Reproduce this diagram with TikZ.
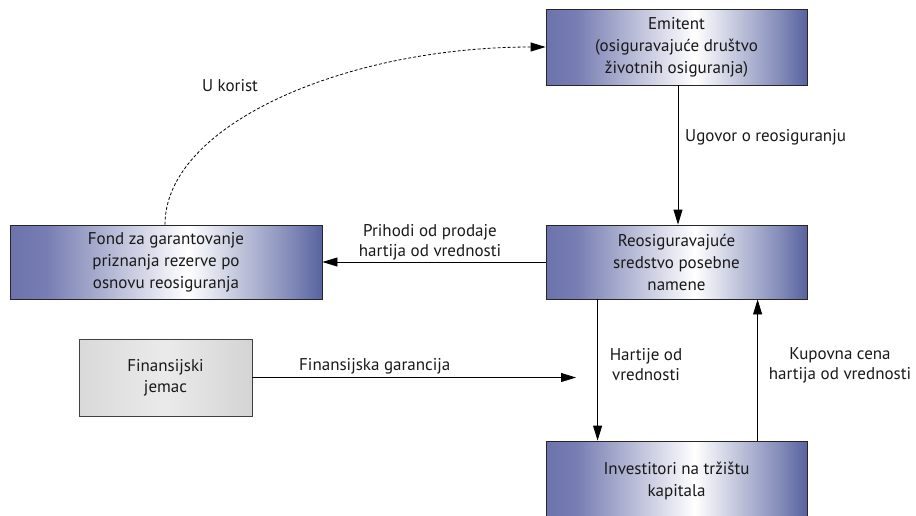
\documentclass[tikz,border=0pt]{standalone}
\usepackage{fontspec}
\setmainfont{PT Sans}
\usetikzlibrary{arrows.meta}
\definecolor{boxL}{RGB}{108,115,172}
\definecolor{boxR}{RGB}{88,99,160}
\definecolor{txt}{RGB}{25,25,25}
\pgfdeclarehorizontalshading{boxshade}{100bp}{color(0bp)=(boxL); color(25bp)=(boxL); color(31bp)=(boxL!92!white); color(53.5bp)=(white); color(70bp)=(boxR!75!white); color(75bp)=(boxR); color(100bp)=(boxR)}
\pgfdeclarehorizontalshading{grayshade}{100bp}{color(0bp)=(black!15); color(25bp)=(black!15); color(50bp)=(black!8); color(75bp)=(black!17); color(100bp)=(black!17)}
\tikzset{
  bluebox/.style={draw=black!85, line width=0.8pt, shading=boxshade, rectangle, align=center, inner sep=0pt, text=txt, font=\fontsize{17}{22}\selectfont},
  graybox/.style={draw=black!75, line width=0.8pt, shading=grayshade, rectangle, align=center, inner sep=0pt, text=txt, font=\fontsize{17}{21}\selectfont},
  lbl/.style={align=center, inner sep=0pt, text=txt, font=\fontsize{17}{20}\selectfont},
  conn/.style={line width=0.8pt, -{Triangle[length=15pt,width=9pt]}},
}
\begin{document}
\begin{tikzpicture}[x=1pt,y=-1pt]
\useasboundingbox (0,0) rectangle (916,515);
\node[bluebox, minimum width=261pt, minimum height=76pt] (emitent) at (676.5,47) {Emitent\\(osiguravajuće društvo\\životnih osiguranja)};
\node[bluebox, minimum width=261pt, minimum height=74pt] (reosig) at (676.5,262) {Reosiguravajuće\\sredstvo posebne\\namene};
\node[bluebox, minimum width=312pt, minimum height=74pt] (fond) at (166,262) {Fond za garantovanje\\priznanja rezerve po\\osnovu reosiguranja};
\node[graybox, minimum width=173pt, minimum height=77pt] (jemac) at (165.5,377.5) {Finansijski\\jemac};
\node[bluebox, minimum width=261pt, minimum height=80pt] (invest) at (676.5,481) {Investitori na tržištu\\kapitala};
\coordinate (gtip) at (576,377.5);

\draw[conn] ([xshift=1.5pt]emitent.south) -- ([xshift=1.5pt]reosig.north);
\draw[conn] (reosig.west) -- (fond.east);
\draw[conn] ([xshift=52pt]reosig.south west) -- ([xshift=52pt]invest.north west);
\draw[conn] ([xshift=212pt]invest.north west) -- ([xshift=212pt]reosig.south west);
\draw[conn] (jemac.east) -- (gtip);
\draw[conn, dash pattern=on 3pt off 2pt] ([xshift=-1pt]fond.north) .. controls +(0,-100) and +(-200,0) .. (emitent.west);

\node[lbl] (ukorist) at (230,86) {U korist};
\node[lbl, anchor=west] (ugovor) at (685,137) {Ugovor o reosiguranju};
\node[lbl] (prihodi) at (430,242) {Prihodi od prodaje\\hartija od vrednosti};
\node[lbl, anchor=west] (garancija) at (299,366) {Finansijska garancija};
\node[lbl] (hartije) at (646,365) {Hartije od\\vrednosti};
\node[lbl] (kupovna) at (840,365) {Kupovna cena\\hartija od vrednosti};
\end{tikzpicture}
\end{document}
